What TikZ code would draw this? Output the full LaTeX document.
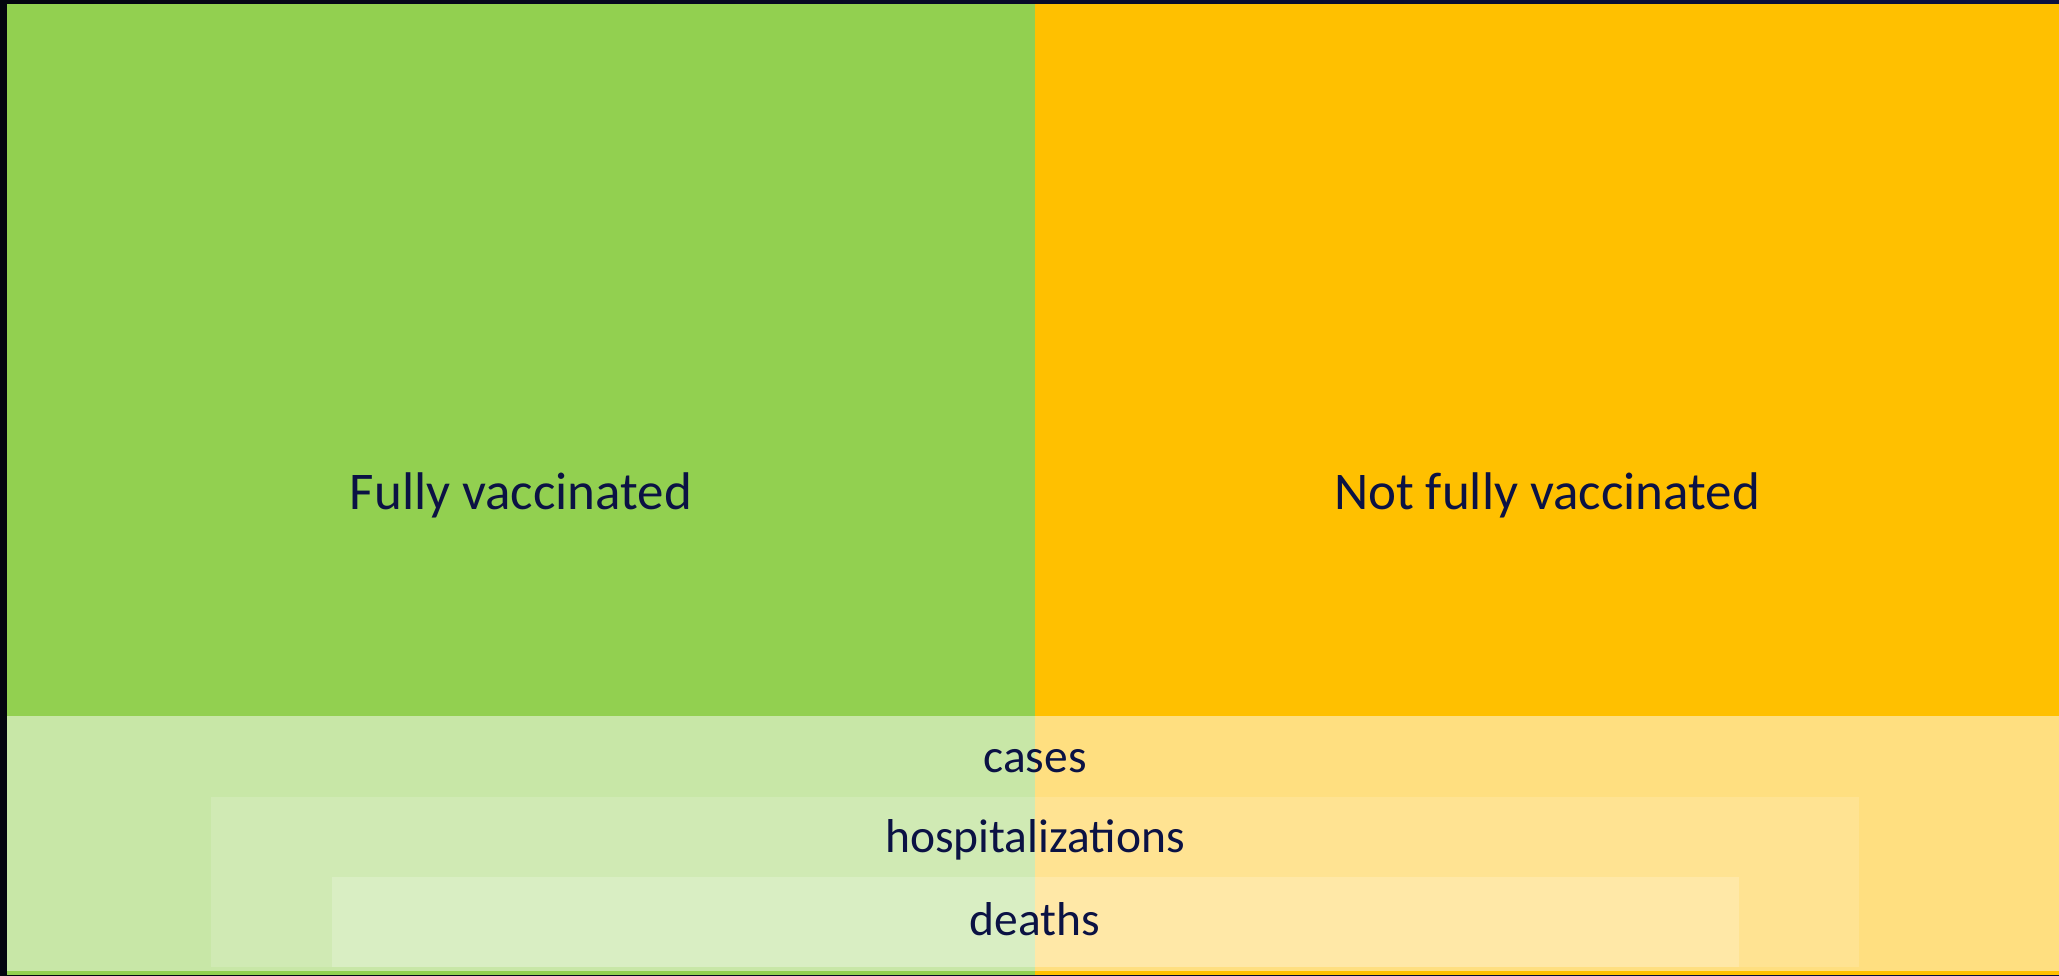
\documentclass[tikz,border=0pt]{standalone}
\usepackage{fontspec}
\setmainfont{Carlito}
\definecolor{bgleft}{HTML}{04050F}
\definecolor{bgright}{HTML}{0B1040}
\definecolor{vgreen}{HTML}{92D050}
\definecolor{vorange}{HTML}{FFC000}
\definecolor{txtnavy}{HTML}{0B1244}
\tikzset{
  toplabel/.style={inner sep=0pt, anchor=base, text=txtnavy, font=\fontsize{53}{60}\selectfont},
  bandlabel/.style={inner sep=0pt, anchor=base, text=txtnavy, font=\fontsize{47.5}{56}\selectfont},
  whiteband/.style={fill=white, fill opacity=#1}
}
\begin{document}
\begin{tikzpicture}[x=1pt,y=-1pt]
\useasboundingbox (0,0) rectangle (2059,975);
\shade[left color=bgleft, right color=bgright] (0,0) rectangle (2059,975);
\fill[vgreen] (7,4) rectangle (1035,975);
\fill[vorange] (1035,4) rectangle (2059,975);
\fill[whiteband=0.5] (7,716) rectangle (2059,971);
\fill[whiteband=0.15] (211,797) rectangle (1859,967);
\fill[whiteband=0.2] (332,877) rectangle (1739,967);
\node[toplabel] (fully) at (521,509) {Fully vaccinated};
\node[toplabel] (notfully) at (1547,509) {Not fully vaccinated};
\node[bandlabel] (cases) at (1035,772) {cases};
\node[bandlabel] (hosp) at (1035,852) {hospitalizations};
\node[bandlabel] (deaths) at (1035,935) {deaths};
\end{tikzpicture}
\end{document}
